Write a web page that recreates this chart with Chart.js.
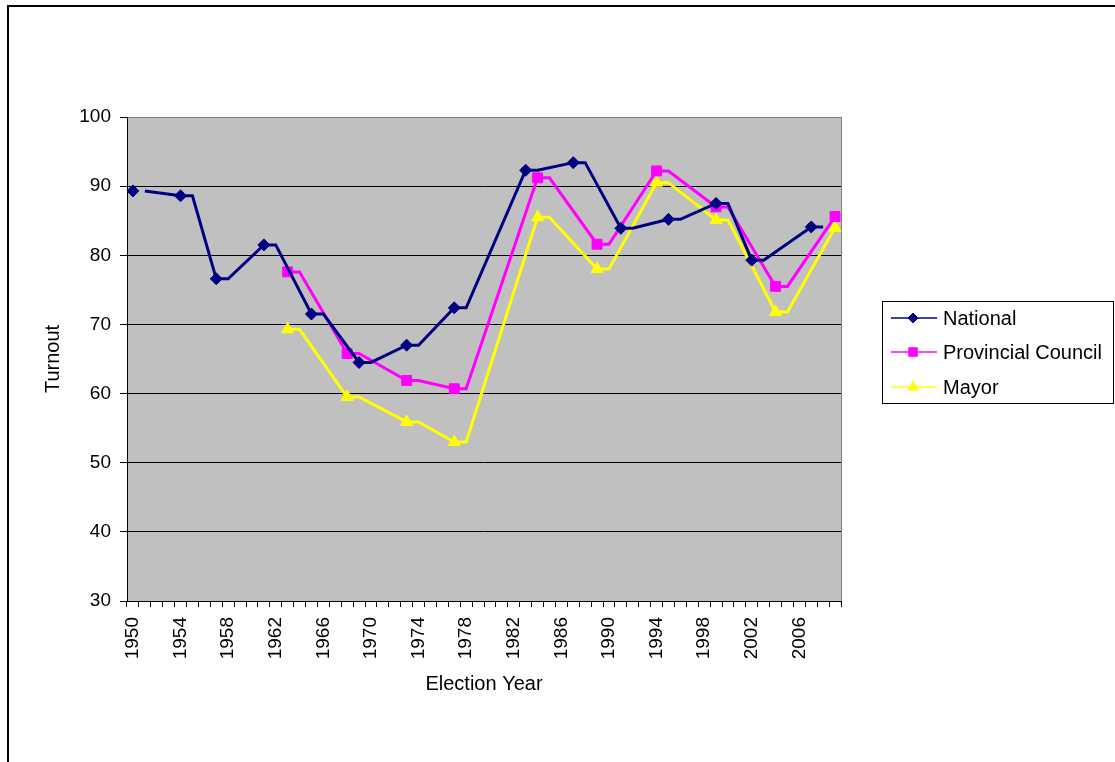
<!DOCTYPE html>
<html>
<head>
<meta charset="utf-8">
<title>Turnout</title>
<script src="https://cdn.jsdelivr.net/npm/chart.js@4.4.0/dist/chart.umd.min.js"></script>
<style>
html,body{margin:0;padding:0;background:#fff;}
</style>
</head>
<body>
<canvas id="turnout" width="1115" height="762"></canvas>
<script>
var years=[1950,1951,1952,1953,1954,1955,1956,1957,1958,1959,
           1960,1961,1962,1963,1964,1965,1966,1967,1968,1969,
           1970,1971,1972,1973,1974,1975,1976,1977,1978,1979,
           1980,1981,1982,1983,1984,1985,1986,1987,1988,1989,
           1990,1991,1992,1993,1994,1995,1996,1997,1998,1999,
           2000,2001,2002,2003,2004,2005,2006,2007,2008,2009];
var labelYears=[1950,1954,1958,1962,1966,1970,1974,1978,1982,1986,1990,1994,1998,2002,2006];

var nationalYears=[1950,1954,1957,1961,1965,1969,1973,1977,1983,1987,1991,1995,1999,2002,2007];
var nationalTurnout=[89.3,88.6,76.6,81.5,71.5,64.5,67.0,72.4,92.3,93.4,83.9,85.2,87.5,79.3,84.1];

var provincialYears=[1963,1968,1973,1977,1984,1989,1994,1999,2004,2009];
var provincialTurnout=[77.6,65.8,61.9,60.7,91.2,81.6,92.2,87.0,75.5,85.6];

var mayorYears=[1963,1968,1973,1977,1984,1989,1994,1999,2004,2009];
var mayorTurnout=[69.3,59.5,55.9,53.0,85.5,78.0,90.5,85.1,71.8,84.0];

var FONT='"Liberation Sans", Arial, sans-serif';

// each result is held through the following year in the sheet, marker only on the election year
function buildSeries(elYears,values){
    var data=years.map(function(){return null;});
    var marked=years.map(function(){return false;});
    for(var i=0;i<elYears.length;i++){
        var k=years.indexOf(elYears[i]);
        data[k]=values[i];
        marked[k]=true;
        if(k+1<years.length) data[k+1]=values[i];
    }
    return {data:data,marked:marked};
}

var national=buildSeries(nationalYears,nationalTurnout);
var provincial=buildSeries(provincialYears,provincialTurnout);
var mayor=buildSeries(mayorYears,mayorTurnout);

function makeSet(label,s,color,style,r){
    return {
        label:label,
        data:s.data,
        borderColor:color,
        backgroundColor:color,
        borderWidth:3,
        pointStyle:style,
        pointRadius:s.marked.map(function(m){return m?r:0;}),
        pointHoverRadius:s.marked.map(function(m){return m?r:0;}),
        pointBorderWidth:1,
        tension:0,
        spanGaps:true,
        clip:false
    };
}

var setNational=makeSet('National',national,'#000080','rectRot',6);
setNational.segment={borderColor:function(c){return c.p0DataIndex===0?'rgba(0,0,0,0)':undefined;}};
var setProvincial=makeSet('Provincial Council',provincial,'#FF00FF','rect',7);
var setMayor=makeSet('Mayor',mayor,'#FFFF00','triangle',7);

var framePlugin={
    id:'frame',
    beforeDraw:function(chart){
        var ctx=chart.ctx, a=chart.chartArea;
        ctx.save();
        ctx.fillStyle='#fff';
        ctx.fillRect(0,0,chart.width,chart.height);
        ctx.strokeStyle='#000';
        ctx.lineWidth=2;
        ctx.strokeRect(8,6,2000,2000);
        ctx.fillStyle='#C0C0C0';
        ctx.fillRect(a.left,a.top,a.right-a.left,a.bottom-a.top);
        ctx.restore();
    },
    beforeDatasetsDraw:function(chart){
        var ctx=chart.ctx, a=chart.chartArea;
        ctx.save();
        ctx.strokeStyle='#808080';
        ctx.lineWidth=1;
        ctx.beginPath();
        ctx.moveTo(a.right+0.5,a.top);
        ctx.lineTo(a.right+0.5,a.bottom);
        ctx.stroke();
        ctx.restore();
    },
    afterDraw:function(chart){
        var ctx=chart.ctx;
        var sets=chart.data.datasets;
        var rows=[318,352,387];
        ctx.save();
        ctx.fillStyle='#fff';
        ctx.fillRect(882,301,232,103);
        ctx.strokeStyle='#000';
        ctx.lineWidth=1;
        ctx.strokeRect(882.5,301.5,231,102);
        for(var i=0;i<sets.length;i++){
            var ds=sets[i], y=rows[i];
            ctx.strokeStyle=ds.borderColor;
            ctx.lineWidth=1.5;
            ctx.beginPath();
            ctx.moveTo(891,y);
            ctx.lineTo(937,y);
            ctx.stroke();
            ctx.fillStyle=ds.backgroundColor;
            ctx.strokeStyle=ds.borderColor;
            ctx.lineWidth=1;
            Chart.helpers.drawPoint(ctx,{pointStyle:ds.pointStyle,radius:ds.pointStyle==='rectRot'?5:6,rotation:0,borderWidth:1},913,y);
            ctx.fillStyle='#000';
            ctx.font='20px '+FONT;
            ctx.textBaseline='middle';
            ctx.textAlign='left';
            ctx.fillText(ds.label,943,y+1);
        }
        ctx.restore();
    }
};

new Chart(document.getElementById('turnout').getContext('2d'),{
    type:'line',
    data:{
        labels:years,
        datasets:[setNational,setProvincial,setMayor]
    },
    options:{
        responsive:false,
        animation:false,
        devicePixelRatio:1,
        layout:{padding:{left:37,top:117,right:274,bottom:62}},
        plugins:{legend:{display:false},tooltip:{enabled:false}},
        scales:{
            x:{
                type:'category',
                offset:true,
                grid:{offset:true,drawOnChartArea:false,drawTicks:true,tickLength:6,color:'#000'},
                border:{color:'#000',width:1},
                ticks:{
                    autoSkip:false,maxRotation:90,minRotation:90,padding:10,color:'#000',
                    font:{family:FONT,size:19},
                    callback:function(v,i){
                        return labelYears.indexOf(years[i])>=0?String(years[i]):'';
                    }
                },
                title:{display:true,text:'Election Year',color:'#000',font:{family:FONT,size:20},padding:{top:4,bottom:4}},
                afterFit:function(s){s.height=99;}
            },
            y:{
                min:30,max:100,
                ticks:{stepSize:10,padding:9,color:'#000',font:{family:FONT,size:19}},
                grid:{
                    color:function(c){return c.tick&&c.tick.value===100?'#808080':'#000';},
                    tickColor:'#000',tickLength:7
                },
                border:{color:'#000',width:1},
                title:{display:true,text:'Turnout',color:'#000',font:{family:FONT,size:20},padding:{top:4,bottom:4}},
                afterFit:function(s){s.width=90;}
            }
        }
    },
    plugins:[framePlugin]
});
</script>
</body>
</html>
